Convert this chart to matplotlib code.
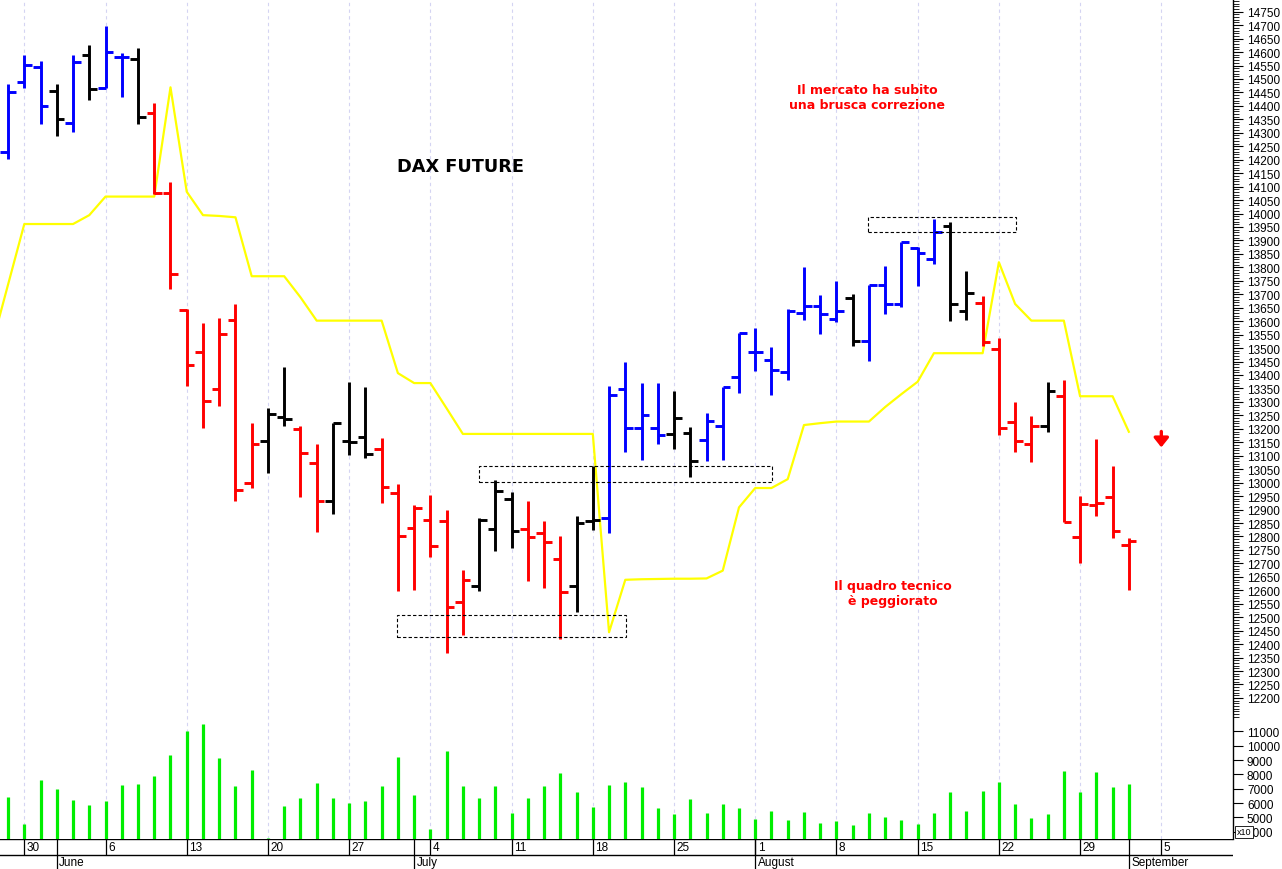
import numpy as np
import pandas as pd
import matplotlib
matplotlib.use('Agg')
import matplotlib.pyplot as plt
from matplotlib.patches import Rectangle
from matplotlib.ticker import FixedLocator, StrMethodFormatter

# trading days shown on the chart (bars from May 27 to Sep 1, axis runs to Sep 9)
days = pd.bdate_range('2022-05-27', '2022-09-09')

opens = [14227, 14490, 14546, 14456, 14336, 14589, 14468, 14583, 14574, 14372,
         14076, 13641, 13484, 13348, 13605, 12999, 13156, 13243, 13199, 13072,
         12931, 13156, 13171, 13125, 12960, 12830, 12861, 12858, 12555, 12615,
         12828, 12939, 12828, 12812, 12716, 12617, 12858, 12869, 13348, 13203,
         13203, 13181, 13184, 13160, 13209, 13391, 13487, 13456, 13412, 13630,
         13658, 13608, 13686, 13527, 13734, 13664, 13871, 13831, 13952, 13637,
         13666, 13497, 13224, 13144, 13209, 13321, 12797, 12918, 12945, 12768]
highs = [14481, 14589, 14566, 14481, 14589, 14627, 14698, 14595, 14615, 14410,
         14118, 13645, 13593, 13611, 13664, 13220, 13277, 13429, 13212, 13144,
         13222, 13373, 13354, 13165, 12995, 12917, 12955, 12898, 12676, 12867,
         13011, 12964, 12933, 12858, 12803, 12875, 13063, 13360, 13447, 13369,
         13369, 13339, 13206, 13259, 13357, 13555, 13573, 13505, 13645, 13800,
         13698, 13750, 13700, 13734, 13806, 13893, 13874, 13980, 13970, 13788,
         13695, 13536, 13301, 13249, 13375, 13383, 12952, 13162, 13061, 12794]
lows = [14203, 14465, 14333, 14289, 14304, 14422, 14465, 14432, 14333, 14073,
        13720, 13360, 13202, 13284, 12931, 12980, 13036, 13212, 12945, 12815,
        12883, 13103, 13090, 12924, 12596, 12602, 12722, 12367, 12435, 12596,
        12747, 12756, 12636, 12608, 12419, 12518, 12825, 12813, 13113, 13084,
        13144, 13125, 13022, 13079, 13084, 13333, 13416, 13326, 13383, 13605,
        13552, 13598, 13509, 13451, 13627, 13652, 13732, 13812, 13602, 13605,
        13509, 13177, 13115, 13076, 13189, 12853, 12701, 12877, 12794, 12602]
closes = [14450, 14552, 14401, 14351, 14564, 14463, 14601, 14580, 14360, 14076,
          13774, 13437, 13302, 13552, 12973, 13144, 13255, 13236, 13109, 12931,
          13222, 13150, 13106, 12983, 12801, 12905, 12763, 12537, 12639, 12862,
          12968, 12819, 12797, 12778, 12592, 12850, 12862, 13327, 13203, 13252,
          13177, 13240, 13079, 13228, 13357, 13555, 13484, 13419, 13639, 13658,
          13627, 13639, 13527, 13734, 13664, 13893, 13852, 13930, 13664, 13705,
          13524, 13202, 13154, 13212, 13342, 12853, 12921, 12924, 12821, 12783]
bar_colors = list('bbbkbkbbkr'
                  'rrrrrrkkrr'
                  'kkkrrrrrrk'
                  'kkrrrkkbbb'
                  'bkkbbbbbbb'
                  'bbkbbbbbkk'
                  'rrrrkrrrrr')
volume = [6401, 4537, 7609, 6980, 6192, 5843, 6164, 7260, 7330, 7867,
          9354, 11029, 11517, 9123, 7211, 8307, 3560, 5815, 6352, 7378,
          6352, 6003, 6122, 7169, 9193, 6562, 4188, 9654, 7169, 6331,
          7190, 5305, 6331, 7190, 8097, 6771, 5724, 7260, 7490, 7130,
          5675, 5215, 6262, 5326, 5913, 5633, 4886, 5424, 4817, 5354,
          4607, 4747, 4468, 5284, 5005, 4796, 4537, 5326, 6750, 5424,
          6820, 7448, 5954, 4935, 5235, 8258, 6750, 8188, 7141, 7307]
# yellow stop line, starts one session earlier (May 26)
stop_line = [13510, 13736, 13961, 13961, 13961, 13961, 13994, 14063, 14063, 14063,
             14063, 14469, 14081, 13994, 13991, 13986, 13767, 13767, 13767, 13689,
             13602, 13602, 13602, 13602, 13602, 13407, 13370, 13370, 13276, 13181,
             13181, 13181, 13181, 13181, 13181, 13181, 13181, 13181, 12444, 12639,
             12641, 12642, 12643, 12643, 12644, 12673, 12908, 12980, 12980, 13013,
             13214, 13221, 13227, 13227, 13227, 13281, 13329, 13375, 13481, 13481,
             13481, 13481, 13819, 13664, 13602, 13602, 13602, 13321, 13321, 13321,
             13189]

# dashed boxes: (first bar, last bar, low, high)
boxes = [(24, 38, 12425, 12509), (29, 47, 13003, 13061), (53, 62, 13930, 13986)]

color_map = {'b': '#0000ff', 'k': '#000000', 'r': '#ff0000'}
n = len(closes)
idx = np.arange(n)
cols = [color_map[c] for c in bar_colors]

plt.rcParams['font.family'] = ['Liberation Sans', 'DejaVu Sans']

W, H = 1282, 870
fig = plt.figure(figsize=(W / 100, H / 100), dpi=100)
fig.patch.set_facecolor('white')

x_lo = -8.06 / 16.243
x_hi = (1233 - 8.06) / 16.243
ax = fig.add_axes([0, 30 / H, 1233 / W, 840 / H])
ax.set_xlim(x_lo, x_hi)
ax.set_ylim(14750 - 827.3 * 3.716, 14750 + 12.7 * 3.716)

ax2 = ax.twinx()
ax2.set_ylim(4000 - 7.3 * 69.8, 4000 + 832.7 * 69.8)

# weekly grid on mondays
mondays = [i for i, d in enumerate(days) if d.weekday() == 0 and i < x_hi]
ax.set_xticks(mondays)
ax.tick_params(axis='x', length=0, labelbottom=False)
ax.grid(axis='x', color='#d4d4f2', linestyle=(0, (3, 3)), linewidth=0.8)
ax.set_axisbelow(True)

# volume
ax2.vlines(idx, 0, volume, colors='#00ee00', linewidth=2.3)

# stop line
ax.plot(np.arange(-1, n), stop_line, color='#ffff00', linewidth=1.6, zorder=2)

# bars: open tick on the left, close tick on the right
ax.vlines(idx, lows, highs, colors=cols, linewidth=2.1, capstyle='butt', zorder=3)
ax.hlines(opens, idx - 0.47, idx, colors=cols, linewidth=2.1, capstyle='butt', zorder=3)
ax.hlines(closes, idx, idx + 0.47, colors=cols, linewidth=2.1, capstyle='butt', zorder=3)

for b0, b1, lo, hi in boxes:
    ax.add_patch(Rectangle((b0 - 0.03, lo), b1 - b0 + 0.06, hi - lo, fill=False,
                           edgecolor='black', linewidth=0.8, linestyle=(0, (3, 2)), zorder=4))

ax.text(27.88, 14177, 'DAX FUTURE', family='DejaVu Sans', fontsize=12.8,
        fontweight='bold', ha='center', va='center')
ax.text(52.88, 14433, 'Il mercato ha subito\nuna brusca correzione', family='DejaVu Sans',
        fontsize=9, fontweight='bold', color='#ff0000', ha='center', va='center',
        linespacing=1.25)
ax.text(54.48, 12590, 'Il quadro tecnico\nè peggiorato', family='DejaVu Sans',
        fontsize=9, fontweight='bold', color='#ff0000', ha='center', va='center',
        linespacing=1.25)
ax.annotate('', xy=(71, 13131), xytext=(71, 13190),
            arrowprops=dict(arrowstyle='-|>,head_length=0.5,head_width=0.4', color='#ff0000',
                            lw=2.4, mutation_scale=11, shrinkA=0, shrinkB=0))

# right axis
for s in ['top', 'left', 'bottom']:
    ax.spines[s].set_visible(False)
for s in ax2.spines.values():
    s.set_visible(False)
ax.spines['right'].set_linewidth(1.0)

ax.yaxis.tick_right()
ax.yaxis.set_major_locator(FixedLocator(np.arange(12200, 14751, 50)))
ax.yaxis.set_minor_locator(FixedLocator(np.arange(12130, 14800, 10)))
ax.yaxis.set_major_formatter(StrMethodFormatter('{x:.0f}'))
ax.tick_params(axis='y', which='major', length=7, width=0.8, pad=3, labelsize=8.5)
ax.tick_params(axis='y', which='minor', length=4, width=0.6)

ax2.yaxis.set_major_locator(FixedLocator(np.arange(4000, 11001, 1000)))
ax2.yaxis.set_minor_locator(FixedLocator([]))
ax2.yaxis.set_major_formatter(StrMethodFormatter('{x:.0f}'))
ax2.tick_params(axis='y', which='major', length=7, width=0.8, pad=3, labelsize=8.5)

fig.text(1237 / W, 1 - 833 / H, 'x10', fontsize=6.5, va='center', ha='left',
         bbox=dict(boxstyle='square,pad=0.2', fc='white', ec='black', lw=0.6), zorder=10)

# date strip below the panel
axd = fig.add_axes([0, 0, 1233 / W, 30 / H])
axd.set_xlim(x_lo, x_hi)
axd.set_ylim(0, 30)
axd.axis('off')
axd.axhline(30, color='black', linewidth=1.0)
axd.axhline(14, color='black', linewidth=1.0)
for m in mondays:
    axd.vlines(m, 14, 30, color='black', linewidth=0.9)
    axd.text(m + 0.15, 22, str(days[m].day), fontsize=8.5, ha='left', va='center')
month_starts = [i for i in range(1, len(days)) if days[i].month != days[i - 1].month]
for m in month_starts:
    axd.vlines(m, 0, 30, color='black', linewidth=0.9)
    axd.text(m + 0.15, 7, days[m].strftime('%B'), fontsize=8.5, ha='left', va='center')

fig.savefig('out.png', dpi=100, facecolor='white')
